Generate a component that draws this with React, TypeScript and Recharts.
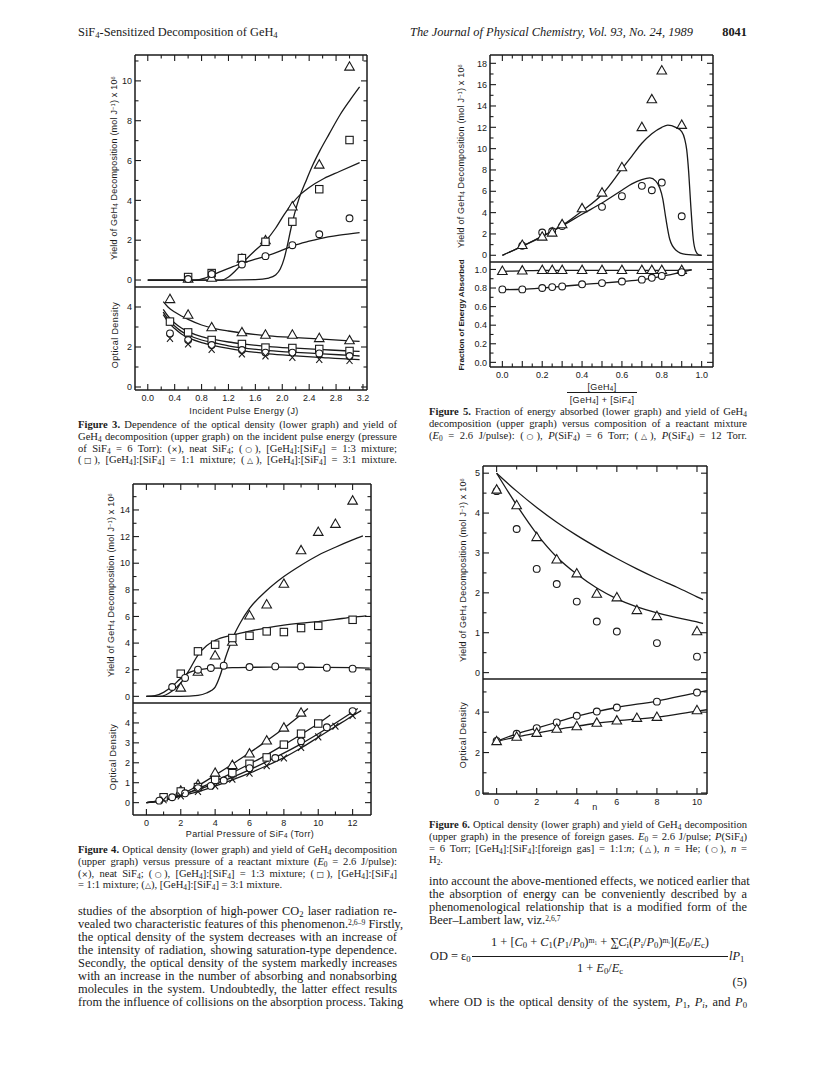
import React from 'react';
import { ComposedChart, Line, Scatter, XAxis, YAxis } from 'recharts';

const INK = '#1a1a1a';
const SANS = '"Liberation Sans", Arial, Helvetica, sans-serif';
const SERIF = '"Liberation Serif", "Times New Roman", Times, serif';

// ---------------- Figure 3 ----------------
const f3YieldX = [0.6, 0.95, 1.4, 1.75, 2.15, 2.55, 3.0];
const f3YieldTri = [0.05, 0.1, 1.05, 1.98, 3.68, 5.78, 10.7];
const f3YieldSq = [0.15, 0.35, 1.1, 1.92, 2.93, 4.56, 7.03];
const f3YieldCirc = [0.05, 0.3, 0.78, 1.2, 1.75, 2.3, 3.1];
const f3FitTriX = [0, 1.2, 1.6, 1.8, 1.9, 1.97, 2.03, 2.08, 2.13, 2.18, 2.25, 2.35, 2.45, 2.56, 2.7, 2.86, 3.0, 3.15];
const f3FitTriY = [0, 0, 0.02, 0.1, 0.25, 0.55, 1.1, 1.8, 2.6, 3.3, 4.1, 4.95, 5.75, 6.5, 7.35, 8.3, 9.0, 9.7];
const f3FitSqX = [0, 1.1, 1.2, 1.3, 1.45, 1.6, 1.75, 1.9, 2.03, 2.15, 2.27, 2.4, 2.62, 2.85, 3.15];
const f3FitSqY = [0, 0, 0.15, 0.45, 1.0, 1.5, 1.95, 2.6, 3.3, 3.85, 4.3, 4.65, 5.1, 5.45, 5.9];
const f3FitCircX = [0, 0.7, 0.85, 0.96, 1.1, 1.25, 1.41, 1.6, 1.76, 2.0, 2.16, 2.4, 2.56, 2.85, 3.15];
const f3FitCircY = [0, 0, 0.1, 0.25, 0.45, 0.65, 0.85, 1.05, 1.2, 1.5, 1.72, 1.95, 2.08, 2.25, 2.38];
const f3OdX = [0.33, 0.6, 0.95, 1.4, 1.75, 2.15, 2.55, 3.0];
const f3OdTri = [4.38, 3.6, 2.97, 2.72, 2.6, 2.6, 2.43, 2.32];
const f3OdSq = [3.27, 2.73, 2.35, 2.15, 1.97, 1.95, 1.9, 1.8];
const f3OdCirc = [2.68, 2.35, 2.1, 1.85, 1.72, 1.72, 1.68, 1.55];
const f3OdCross = [2.43, 2.15, 1.88, 1.65, 1.55, 1.48, 1.38, 1.32];
const f3OdFitX = [0.23, 0.3, 0.4, 0.5, 0.6, 0.8, 1.0, 1.2, 1.4, 1.8, 2.2, 2.6, 3.0, 3.15];
const f3OdFitTri = [4.27, 4.0, 3.75, 3.55, 3.38, 3.1, 2.92, 2.8, 2.7, 2.56, 2.47, 2.39, 2.31, 2.28];
const f3OdFitSq = [3.88, 3.55, 3.2, 2.95, 2.77, 2.52, 2.37, 2.25, 2.16, 2.02, 1.94, 1.87, 1.8, 1.78];
const f3OdFitCirc = [3.75, 3.4, 3.05, 2.78, 2.6, 2.35, 2.2, 2.06, 1.96, 1.82, 1.73, 1.66, 1.58, 1.55];
const f3OdFitCross = [3.62, 3.27, 2.92, 2.65, 2.47, 2.22, 2.06, 1.93, 1.82, 1.66, 1.56, 1.47, 1.39, 1.37];
const f3XTicks = [0, 0.2, 0.4, 0.6, 0.8, 1.0, 1.2, 1.4, 1.6, 1.8, 2.0, 2.2, 2.4, 2.6, 2.8, 3.0, 3.2];
const f3XLabels = [0, 0.4, 0.8, 1.2, 1.6, 2.0, 2.4, 2.8, 3.2];
const f3UpYTicks = [0, 1, 2, 3, 4, 5, 6, 7, 8, 9, 10, 11];
const f3UpYLabels = [0, 2, 4, 6, 8, 10];
const f3LoYTicks = [0, 1, 2, 3, 4];
const f3LoYLabels = [0, 2, 4];

// ---------------- Figure 5 ----------------
const f5TriX = [0.1, 0.2, 0.25, 0.3, 0.4, 0.5, 0.6, 0.7, 0.75, 0.8, 0.9];
const f5YieldTri = [0.94, 1.72, 2.1, 2.88, 4.38, 5.85, 8.23, 11.99, 14.6, 17.3, 12.2];
const f5CircX = [0.1, 0.2, 0.25, 0.3, 0.5, 0.6, 0.7, 0.75, 0.8, 0.9];
const f5YieldCirc = [0.9, 2.13, 2.25, 2.75, 4.54, 5.54, 6.51, 6.1, 6.82, 3.66];
const f5FitTriX = [0, 0.1, 0.2, 0.3, 0.4, 0.5, 0.6, 0.65, 0.7, 0.75, 0.8, 0.83, 0.87, 0.9, 0.915, 0.925, 0.935, 0.945, 0.958, 0.97, 0.985, 1.0];
const f5FitTriY = [0, 0.85, 1.75, 2.8, 4.15, 5.7, 8.1, 9.3, 10.5, 11.4, 12.0, 12.2, 12.0, 11.6, 10.9, 9.9, 7.8, 4.8, 1.5, 0.4, 0.05, 0];
const f5FitCircX = [0, 0.1, 0.2, 0.3, 0.4, 0.5, 0.6, 0.65, 0.7, 0.74, 0.77, 0.79, 0.805, 0.82, 0.84, 0.87, 0.92, 1.0];
const f5FitCircY = [0, 0.85, 1.8, 2.75, 3.85, 4.9, 6.1, 6.7, 7.1, 7.25, 6.95, 6.3, 5.3, 3.5, 1.5, 0.5, 0.08, 0];
const f5FracX = [0, 0.1, 0.2, 0.25, 0.3, 0.4, 0.5, 0.6, 0.7, 0.75, 0.8, 0.9];
const f5FracTri = [0.98, 0.985, 0.99, 0.99, 0.99, 0.99, 0.99, 0.99, 0.99, 0.99, 0.99, 0.99];
const f5FracCirc = [0.785, 0.785, 0.8, 0.81, 0.817, 0.84, 0.853, 0.87, 0.89, 0.91, 0.93, 0.97];
const f5FracLineX = [0, 0.1, 0.2, 0.3, 0.4, 0.5, 0.6, 0.7, 0.8, 0.9, 0.95];
const f5FracLineTri = [0.98, 0.985, 0.99, 0.99, 0.99, 0.99, 0.99, 0.99, 0.99, 0.99, 0.995];
const f5FracLineCirc = [0.783, 0.787, 0.8, 0.817, 0.838, 0.853, 0.87, 0.89, 0.925, 0.97, 0.995];
const f5XTicks = [0, 0.05, 0.1, 0.15, 0.2, 0.25, 0.3, 0.35, 0.4, 0.45, 0.5, 0.55, 0.6, 0.65, 0.7, 0.75, 0.8, 0.85, 0.9, 0.95, 1.0];
const f5XMajor = [0, 0.1, 0.2, 0.3, 0.4, 0.5, 0.6, 0.7, 0.8, 0.9, 1.0];
const f5XLabels = [0, 0.2, 0.4, 0.6, 0.8, 1.0];
const f5UpYTicks = [0, 1, 2, 3, 4, 5, 6, 7, 8, 9, 10, 11, 12, 13, 14, 15, 16, 17, 18];
const f5UpYLabels = [0, 2, 4, 6, 8, 10, 12, 14, 16, 18];
const f5LoYTicks = [0, 0.1, 0.2, 0.3, 0.4, 0.5, 0.6, 0.7, 0.8, 0.9, 1.0];
const f5LoYLabels = [0, 0.2, 0.4, 0.6, 0.8, 1.0];

// ---------------- Figure 4 ----------------
const f4TriX = [2, 3, 4, 5, 6, 7, 8, 9, 10, 11, 12];
const f4YieldTri = [0.63, 1.83, 3.05, 4.08, 6.05, 6.88, 8.43, 10.95, 12.33, 12.93, 14.68];
const f4SqX = [2, 3, 4, 5, 6, 7, 8, 9, 10, 12];
const f4YieldSq = [1.7, 3.38, 3.88, 4.38, 4.55, 4.88, 4.83, 5.13, 5.3, 5.75];
const f4CircX = [1.5, 2.25, 3, 3.75, 4.5, 6, 7.5, 9, 10.5, 12];
const f4YieldCirc = [0.7, 1.38, 2.0, 2.13, 2.3, 2.2, 2.25, 2.25, 2.15, 2.08];
const f4FitTriX = [0, 2, 3, 3.5, 3.8, 4.0, 4.3, 4.6, 4.85, 5.1, 5.5, 6, 7, 8, 9, 10, 11, 12, 12.6];
const f4FitTriY = [0, 0, 0.08, 0.25, 0.45, 0.7, 1.6, 2.9, 3.8, 4.6, 5.6, 6.6, 7.95, 9.0, 9.85, 10.6, 11.2, 11.75, 12.05];
const f4FitSqX = [0, 0.8, 1.5, 2, 2.5, 3, 3.5, 4, 5, 6, 7, 8, 9, 10, 11, 12, 12.8];
const f4FitSqY = [0, 0, 0.4, 1.0, 2.0, 3.1, 3.8, 4.2, 4.6, 4.9, 5.15, 5.35, 5.5, 5.62, 5.78, 5.95, 6.05];
const f4FitCircX = [0, 0.5, 1, 1.5, 2, 2.5, 3, 3.5, 4, 5, 6, 8, 10, 12, 13];
const f4FitCircY = [0, 0.05, 0.3, 0.75, 1.35, 1.8, 2.0, 2.08, 2.12, 2.15, 2.18, 2.2, 2.18, 2.15, 2.12];
const f4OdTriX = [2, 3, 4, 5, 6, 7, 8, 9];
const f4OdTri = [0.58, 0.89, 1.48, 1.87, 2.45, 3.1, 3.75, 4.5];
const f4OdSqX = [1, 2, 3, 4, 5, 6, 7, 8, 9, 10];
const f4OdSq = [0.27, 0.56, 0.78, 1.14, 1.48, 1.95, 2.27, 2.91, 3.46, 3.97];
const f4OdCircX = [0.75, 1.5, 2.25, 3, 3.75, 4.5, 6, 7.5, 9, 10.5, 12];
const f4OdCirc = [0.1, 0.27, 0.47, 0.73, 0.84, 1.11, 1.73, 2.24, 3.08, 3.78, 4.59];
const f4OdCrossX = [1, 2, 3, 4, 5, 6, 7, 8, 9, 10, 11, 12];
const f4OdCross = [0.14, 0.34, 0.56, 0.84, 1.18, 1.48, 1.85, 2.24, 2.77, 3.3, 3.83, 4.37];
const f4OdFitTriX = [0, 1, 2, 3, 4, 5, 6, 7, 8, 9, 9.4];
const f4OdFitTri = [0, 0.15, 0.42, 0.85, 1.38, 1.93, 2.5, 3.1, 3.73, 4.42, 4.72];
const f4OdFitSqX = [0, 1, 2, 3, 4, 5, 6, 7, 8, 9, 10, 10.7];
const f4OdFitSq = [0, 0.12, 0.36, 0.7, 1.08, 1.5, 1.94, 2.4, 2.9, 3.42, 3.97, 4.4];
const f4OdFitCircX = [0, 0.75, 1.5, 2.25, 3, 3.75, 4.5, 6, 7.5, 9, 10.5, 12, 12.3];
const f4OdFitCirc = [0, 0.08, 0.24, 0.44, 0.66, 0.88, 1.1, 1.65, 2.27, 2.95, 3.72, 4.55, 4.72];
const f4OdFitCrossX = [0, 1, 2, 3, 4, 5, 6, 7, 8, 9, 10, 11, 12, 12.5];
const f4OdFitCross = [0, 0.12, 0.32, 0.55, 0.83, 1.14, 1.48, 1.85, 2.26, 2.74, 3.28, 3.82, 4.36, 4.62];
const f4XTicks = [0, 1, 2, 3, 4, 5, 6, 7, 8, 9, 10, 11, 12];
const f4XLabels = [0, 2, 4, 6, 8, 10, 12];
const f4UpYTicks = [0, 1, 2, 3, 4, 5, 6, 7, 8, 9, 10, 11, 12, 13, 14, 15];
const f4UpYLabels = [0, 2, 4, 6, 8, 10, 12, 14];
const f4LoYTicks = [0, 0.5, 1, 1.5, 2, 2.5, 3, 3.5, 4, 4.5];
const f4LoYLabels = [0, 1, 2, 3, 4];

// ---------------- Figure 6 ----------------
const f6TriN = [0, 1, 2, 3, 4, 5, 6, 7, 8, 10];
const f6YieldTri = [4.58, 4.19, 3.39, 2.83, 2.48, 1.97, 1.88, 1.56, 1.41, 1.03];
const f6CircN = [0, 1, 2, 3, 4, 5, 6, 8, 10];
const f6YieldCirc = [4.55, 3.6, 2.6, 2.22, 1.78, 1.28, 1.03, 0.74, 0.4];
const f6OdCirc = [2.58, 2.93, 3.21, 3.49, 3.82, 4.03, 4.23, 4.52, 4.97];
const f6OdTri = [2.55, 2.77, 2.96, 3.16, 3.29, 3.46, 3.57, 3.7, 3.75, 4.08];
const f6FitN = [0, 1, 2, 3, 4, 5, 6, 7, 8, 9, 10, 10.3];
const f6FitHigh = [5.0, 4.55, 4.14, 3.77, 3.44, 3.14, 2.86, 2.6, 2.36, 2.14, 1.9, 1.83];
const f6FitLow = [5.0, 4.2, 3.48, 2.9, 2.47, 2.12, 1.85, 1.65, 1.5, 1.38, 1.27, 1.23];
const f6OdLineN = [0, 1, 2, 3, 4, 5, 6, 8, 10, 10.5];
const f6OdLineCirc = [2.55, 2.93, 3.21, 3.5, 3.8, 4.03, 4.23, 4.55, 4.97, 5.07];
const f6OdLineTri = [2.55, 2.77, 2.96, 3.15, 3.3, 3.45, 3.57, 3.75, 4.05, 4.12];
const f6XTicks = [0, 1, 2, 3, 4, 5, 6, 7, 8, 9, 10];
const f6XLabels = [0, 2, 4, 6, 8, 10];
const f6UpYTicks = [0, 0.5, 1, 1.5, 2, 2.5, 3, 3.5, 4, 4.5, 5];
const f6UpYLabels = [0, 1, 2, 3, 4, 5];
const f6LoYTicks = [0, 1, 2, 3, 4, 5];
const f6LoYLabels = [0, 2, 4];

// ---------------- helpers ----------------
type Kind = 'tri' | 'circ' | 'sq' | 'cross';
type Curve = { xs: number[]; ys: number[] };
type Mark = { xs: number[]; ys: number[]; kind: Kind };

const zip = (xs: number[], ys: number[]) => xs.map((x, i) => ({ x, y: ys[i] }));
const fmtInt = (v: number) => String(v);
const fmt1 = (v: number) => v.toFixed(1);

const shapeOf = (kind: Kind) => (p: any) => {
  const { cx, cy } = p;
  if (cx == null || cy == null) return <g />;
  const sw = 1.1;
  if (kind === 'tri')
    return <polygon points={`${cx},${cy - 5.2} ${cx - 4.8},${cy + 3.2} ${cx + 4.8},${cy + 3.2}`} fill="#fff" stroke={INK} strokeWidth={sw} />;
  if (kind === 'circ') return <circle cx={cx} cy={cy} r={3.4} fill="#fff" stroke={INK} strokeWidth={sw} />;
  if (kind === 'sq') return <rect x={cx - 3.7} y={cy - 3.7} width={7.4} height={7.4} fill="#fff" stroke={INK} strokeWidth={sw} />;
  return (
    <g stroke={INK} strokeWidth={sw}>
      <line x1={cx - 3} y1={cy - 3.4} x2={cx + 3} y2={cy + 3.4} />
      <line x1={cx + 3} y1={cy - 3.4} x2={cx - 3} y2={cy + 3.4} />
    </g>
  );
};

const makeTick = (side: 'top' | 'bottom' | 'left' | 'right', major: number[], labels: number[] | null, fmt: (v: number) => string) => (p: any) => {
  const { x, y, payload } = p;
  const v = payload.value;
  const len = major.includes(v) ? 6 : 3.5;
  const showLab = labels ? labels.includes(v) : false;
  const txt = (props: any) => (
    <text {...props} fill={INK} fontFamily={SANS} fontSize={9}>
      {fmt(v)}
    </text>
  );
  if (side === 'top') return <g><line x1={x} y1={y} x2={x} y2={y + len} stroke={INK} strokeWidth={1.1} /></g>;
  if (side === 'bottom')
    return (
      <g>
        <line x1={x} y1={y} x2={x} y2={y - len} stroke={INK} strokeWidth={1.1} />
        {showLab && txt({ x, y: y + 11, textAnchor: 'middle' })}
      </g>
    );
  if (side === 'left')
    return (
      <g>
        <line x1={x} y1={y} x2={x + len} y2={y} stroke={INK} strokeWidth={1.1} />
        {showLab && txt({ x: x - 3, y: y + 3.2, textAnchor: 'end' })}
      </g>
    );
  return <g><line x1={x} y1={y} x2={x - len} y2={y} stroke={INK} strokeWidth={1.1} /></g>;
};

const frame = { stroke: INK, strokeWidth: 1.5 };

type PanelProps = {
  l: number; t: number; w: number; h: number;
  xDomain: [number, number]; yDomain: [number, number];
  xTicks: number[]; xMajor: number[]; xLabels: number[]; xFmt: (v: number) => string;
  yTicks: number[]; yMajor: number[]; yFmt: (v: number) => string;
  upper: boolean;
  curves: Curve[]; marks: Mark[];
};

function Panel(pp: PanelProps) {
  const { l, t, w, h, xDomain, yDomain, xTicks, xMajor, xLabels, xFmt, yTicks, yMajor, yFmt, upper, curves, marks } = pp;
  const ML = 40, MR = 20, MT = 20, MB = 30;
  const W = w + ML + MR, H = h + MT + MB;
  return (
    <div style={{ position: 'absolute', left: l - ML, top: t - MT, width: W, height: H }}>
      <ComposedChart width={W} height={H} margin={{ top: 0, right: 0, bottom: 0, left: 0 }}>
        <XAxis xAxisId="t" orientation="top" type="number" dataKey="x" domain={xDomain} allowDataOverflow height={MT}
          ticks={xTicks} interval={0} tickSize={0} tickMargin={0} tickLine={false}
          axisLine={upper ? frame : false} tick={upper ? makeTick('top', xMajor, null, xFmt) : false} />
        <XAxis xAxisId="b" orientation="bottom" type="number" dataKey="x" domain={xDomain} allowDataOverflow height={MB}
          ticks={xTicks} interval={0} tickSize={0} tickMargin={0} tickLine={false}
          axisLine={frame} tick={upper ? false : makeTick('bottom', xMajor, xLabels, xFmt)} />
        <YAxis yAxisId="l" orientation="left" type="number" dataKey="y" domain={yDomain} allowDataOverflow width={ML}
          ticks={yTicks} interval={0} tickSize={0} tickMargin={0} tickLine={false}
          axisLine={frame} tick={makeTick('left', yMajor, yMajor, yFmt)} />
        <YAxis yAxisId="r" orientation="right" type="number" dataKey="y" domain={yDomain} allowDataOverflow width={MR}
          ticks={yTicks} interval={0} tickSize={0} tickMargin={0} tickLine={false}
          axisLine={frame} tick={makeTick('right', yMajor, null, yFmt)} />
        {curves.map((c, i) => (
          <Line key={'c' + i} xAxisId="b" yAxisId="l" data={zip(c.xs, c.ys)} dataKey="y" type="monotone"
            dot={false} activeDot={false} stroke={INK} strokeWidth={1.3} isAnimationActive={false} />
        ))}
        {marks.map((m, i) => (
          <Scatter key={'m' + i} xAxisId="b" yAxisId="l" data={zip(m.xs, m.ys)} dataKey="y"
            shape={shapeOf(m.kind)} isAnimationActive={false} />
        ))}
      </ComposedChart>
    </div>
  );
}

// ---------------- text helpers ----------------
const subSt: React.CSSProperties = { fontSize: '0.7em', verticalAlign: '-0.22em', lineHeight: 0 };
const supSt: React.CSSProperties = { fontSize: '0.62em', verticalAlign: '0.35em', lineHeight: 0 };
const s = (t: string) => <sub style={subSt}>{t}</sub>;
const u = (t: string) => <sup style={supSt}>{t}</sup>;
const sym = (c: string) => <span style={{ fontFamily: '"DejaVu Sans", sans-serif', fontSize: '0.74em' }}>{c}</span>;

function TL({ x, y, w, size, align = 'justify', children, style }: any) {
  return (
    <div style={{
      position: 'absolute', left: x, top: y - size * 0.52, width: w, fontSize: size, lineHeight: `${size * 0.96}px`,
      textAlign: align, textAlignLast: align, whiteSpace: 'nowrap', fontFamily: SERIF, color: INK, ...style,
    }}>{children}</div>
  );
}

function Para({ x, y, w, size, gap, lines, lastJustify = false }: any) {
  return (
    <>
      {lines.map((ln: any, i: number) => (
        <TL key={i} x={x} y={y + i * gap} w={w} size={size} align={i === lines.length - 1 && !lastJustify ? 'left' : 'justify'}>
          {ln}
        </TL>
      ))}
    </>
  );
}

function VTitle({ cx, cy, children, size = 9, bold = false, ls = 0.2 }: any) {
  return (
    <div style={{
      position: 'absolute', left: cx, top: cy, transform: 'translate(-50%, -50%) rotate(-90deg)', whiteSpace: 'nowrap',
      fontFamily: SANS, fontSize: size, letterSpacing: ls, fontWeight: bold ? 700 : 400, lineHeight: 1, color: INK,
    }}>{children}</div>
  );
}

function HTitle({ cx, cy, children, size = 9, ls = 0.35 }: any) {
  return (
    <div style={{
      position: 'absolute', left: cx, top: cy, transform: 'translate(-50%, -50%)', whiteSpace: 'nowrap',
      fontFamily: SANS, fontSize: size, letterSpacing: ls, lineHeight: 1, color: INK,
    }}>{children}</div>
  );
}

const yieldTitle = <>Yield of GeH{s('4')} Decomposition (mol J{u('−1')}) x 10{u('6')}</>;
const G4 = <>GeH{s('4')}</>;
const S4 = <>SiF{s('4')}</>;
const ratio = <>[{G4}]:[{S4}]</>;

export default function App() {
  const CAP = 10.6;
  const BODY = 12.4;
  return (
    <div style={{ position: 'absolute', left: 0, top: 0, width: 820, height: 1068, background: '#fff', overflow: 'hidden', fontFamily: SERIF, color: INK }}>
      {/* running head */}
      <TL x={78} y={33} w={300} size={12.4} align="left">SiF{s('4')}-Sensitized Decomposition of GeH{s('4')}</TL>
      <TL x={410} y={33} w={296} size={12.4} align="left"><i>The Journal of Physical Chemistry, Vol. 93, No. 24, 1989</i></TL>
      <TL x={707} y={33} w={40} size={12.4} align="right"><b>8041</b></TL>

      {/* ---------- Figure 3 ---------- */}
      <Panel l={135} t={55} w={232} h={232} xDomain={[-0.19, 3.26]} yDomain={[-0.35, 11.3]}
        xTicks={f3XTicks} xMajor={f3XLabels} xLabels={f3XLabels} xFmt={fmt1}
        yTicks={f3UpYTicks} yMajor={f3UpYLabels} yFmt={fmtInt} upper
        curves={[{ xs: f3FitTriX, ys: f3FitTriY }, { xs: f3FitSqX, ys: f3FitSqY }, { xs: f3FitCircX, ys: f3FitCircY }]}
        marks={[{ xs: f3YieldX, ys: f3YieldTri, kind: 'tri' }, { xs: f3YieldX, ys: f3YieldSq, kind: 'sq' }, { xs: f3YieldX, ys: f3YieldCirc, kind: 'circ' }]} />
      <Panel l={135} t={287} w={232} h={103} xDomain={[-0.19, 3.26]} yDomain={[-0.15, 5]}
        xTicks={f3XTicks} xMajor={f3XLabels} xLabels={f3XLabels} xFmt={fmt1}
        yTicks={f3LoYTicks} yMajor={f3LoYLabels} yFmt={fmtInt} upper={false}
        curves={[{ xs: f3OdFitX, ys: f3OdFitTri }, { xs: f3OdFitX, ys: f3OdFitSq }, { xs: f3OdFitX, ys: f3OdFitCirc }, { xs: f3OdFitX, ys: f3OdFitCross }]}
        marks={[{ xs: f3OdX, ys: f3OdTri, kind: 'tri' }, { xs: f3OdX, ys: f3OdSq, kind: 'sq' }, { xs: f3OdX, ys: f3OdCirc, kind: 'circ' }, { xs: f3OdX, ys: f3OdCross, kind: 'cross' }]} />
      <VTitle cx={114} cy={168}>{yieldTitle}</VTitle>
      <VTitle cx={115} cy={335} ls={0.4}>Optical Density</VTitle>
      <HTitle cx={244} cy={411}>Incident Pulse Energy (J)</HTitle>
      <Para x={78} y={426} w={319} size={CAP} gap={11.6} lastJustify lines={[
        <><b>Figure 3.</b> Dependence of the optical density (lower graph) and yield of</>,
        <>{G4} decomposition (upper graph) on the incident pulse energy (pressure</>,
        <>of {S4} = 6 Torr): ({sym('×')}), neat {S4}; ({sym('○')}), {ratio} = 1:3 mixture;</>,
        <>({sym('□')}), {ratio} = 1:1 mixture; ({sym('△')}), {ratio} = 3:1 mixture.</>,
      ]} />

      {/* ---------- Figure 5 ---------- */}
      <Panel l={490} t={55} w={223} h={207} xDomain={[-0.062, 1.057]} yDomain={[-0.63, 18.78]}
        xTicks={f5XTicks} xMajor={f5XMajor} xLabels={f5XLabels} xFmt={fmt1}
        yTicks={f5UpYTicks} yMajor={f5UpYLabels} yFmt={fmtInt} upper
        curves={[{ xs: f5FitTriX, ys: f5FitTriY }, { xs: f5FitCircX, ys: f5FitCircY }]}
        marks={[{ xs: f5CircX, ys: f5YieldCirc, kind: 'circ' }, { xs: f5TriX, ys: f5YieldTri, kind: 'tri' }]} />
      <Panel l={490} t={262} w={223} h={105} xDomain={[-0.062, 1.057]} yDomain={[-0.05, 1.08]}
        xTicks={f5XTicks} xMajor={f5XMajor} xLabels={f5XLabels} xFmt={fmt1}
        yTicks={f5LoYTicks} yMajor={f5LoYLabels} yFmt={fmt1} upper={false}
        curves={[{ xs: f5FracLineX, ys: f5FracLineTri }, { xs: f5FracLineX, ys: f5FracLineCirc }]}
        marks={[{ xs: f5FracX, ys: f5FracTri, kind: 'tri' }, { xs: f5FracX, ys: f5FracCirc, kind: 'circ' }]} />
      <VTitle cx={461} cy={156}>{yieldTitle}</VTitle>
      <VTitle cx={462} cy={315} size={8.1} bold ls={0}>Fraction of Energy Absorbed</VTitle>
      <HTitle cx={602} cy={387}>[{G4}]</HTitle>
      <div style={{ position: 'absolute', left: 567, top: 392, width: 70, borderTop: `1px solid ${INK}` }} />
      <HTitle cx={602} cy={400}>[{G4}] + [{S4}]</HTitle>
      <Para x={429} y={413} w={318} size={CAP} gap={11.6} lastJustify lines={[
        <><b>Figure 5.</b> Fraction of energy absorbed (lower graph) and yield of {G4}</>,
        <>decomposition (upper graph) versus composition of a reactant mixture</>,
        <>(<i>E</i>{s('0')} = 2.6 J/pulse): ({sym('○')}), <i>P</i>({S4}) = 6 Torr; ({sym('△')}), <i>P</i>({S4}) = 12 Torr.</>,
      ]} />

      {/* ---------- Figure 4 ---------- */}
      <Panel l={133} t={484} w={238} h={219} xDomain={[-0.78, 13.07]} yDomain={[-0.5, 15.95]}
        xTicks={f4XTicks} xMajor={f4XLabels} xLabels={f4XLabels} xFmt={fmtInt}
        yTicks={f4UpYTicks} yMajor={f4UpYLabels} yFmt={fmtInt} upper
        curves={[{ xs: f4FitTriX, ys: f4FitTriY }, { xs: f4FitSqX, ys: f4FitSqY }, { xs: f4FitCircX, ys: f4FitCircY }]}
        marks={[{ xs: f4TriX, ys: f4YieldTri, kind: 'tri' }, { xs: f4SqX, ys: f4YieldSq, kind: 'sq' }, { xs: f4CircX, ys: f4YieldCirc, kind: 'circ' }]} />
      <Panel l={133} t={703} w={238} h={112} xDomain={[-0.78, 13.07]} yDomain={[-0.62, 5.0]}
        xTicks={f4XTicks} xMajor={f4XLabels} xLabels={f4XLabels} xFmt={fmtInt}
        yTicks={f4LoYTicks} yMajor={f4LoYLabels} yFmt={fmtInt} upper={false}
        curves={[{ xs: f4OdFitTriX, ys: f4OdFitTri }, { xs: f4OdFitSqX, ys: f4OdFitSq }, { xs: f4OdFitCircX, ys: f4OdFitCirc }, { xs: f4OdFitCrossX, ys: f4OdFitCross }]}
        marks={[{ xs: f4OdTriX, ys: f4OdTri, kind: 'tri' }, { xs: f4OdSqX, ys: f4OdSq, kind: 'sq' }, { xs: f4OdCircX, ys: f4OdCirc, kind: 'circ' }, { xs: f4OdCrossX, ys: f4OdCross, kind: 'cross' }]} />
      <VTitle cx={111} cy={585}>{yieldTitle}</VTitle>
      <VTitle cx={113} cy={757} ls={0.4}>Optical Density</VTitle>
      <HTitle cx={250} cy={834}>Partial Pressure of {S4} (Torr)</HTitle>
      <Para x={78} y={851} w={319} size={CAP} gap={11.6} lines={[
        <><b>Figure 4.</b> Optical density (lower graph) and yield of {G4} decomposition</>,
        <>(upper graph) versus pressure of a reactant mixture (<i>E</i>{s('0')} = 2.6 J/pulse):</>,
        <>({sym('×')}), neat {S4}; ({sym('○')}), {ratio} = 1:3 mixture; ({sym('□')}), {ratio}</>,
        <>= 1:1 mixture; ({sym('△')}), {ratio} = 3:1 mixture.</>,
      ]} />
      <Para x={78} y={912} w={319} size={BODY} gap={13} lastJustify lines={[
        <>studies of the absorption of high-power CO{s('2')} laser radiation re-</>,
        <>vealed two characteristic features of this phenomenon.{u('2,6–9')} Firstly,</>,
        <>the optical density of the system decreases with an increase of</>,
        <>the intensity of radiation, showing saturation-type dependence.</>,
        <>Secondly, the optical density of the system markedly increases</>,
        <>with an increase in the number of absorbing and nonabsorbing</>,
        <>molecules in the system.  Undoubtedly, the latter effect results</>,
        <>from the influence of collisions on the absorption process.  Taking</>,
      ]} />

      {/* ---------- Figure 6 ---------- */}
      <Panel l={483} t={466} w={224} h={213} xDomain={[-0.68, 10.5]} yDomain={[-0.16, 5.18]}
        xTicks={f6XTicks} xMajor={f6XLabels} xLabels={f6XLabels} xFmt={fmtInt}
        yTicks={f6UpYTicks} yMajor={f6UpYLabels} yFmt={fmtInt} upper
        curves={[{ xs: f6FitN, ys: f6FitHigh }, { xs: f6FitN, ys: f6FitLow }]}
        marks={[{ xs: f6CircN, ys: f6YieldCirc, kind: 'circ' }, { xs: f6TriN, ys: f6YieldTri, kind: 'tri' }]} />
      <Panel l={483} t={679} w={224} h={115} xDomain={[-0.68, 10.5]} yDomain={[-0.05, 5.64]}
        xTicks={f6XTicks} xMajor={f6XLabels} xLabels={f6XLabels} xFmt={fmtInt}
        yTicks={f6LoYTicks} yMajor={f6LoYLabels} yFmt={fmtInt} upper={false}
        curves={[{ xs: f6OdLineN, ys: f6OdLineCirc }, { xs: f6OdLineN, ys: f6OdLineTri }]}
        marks={[{ xs: f6CircN, ys: f6OdCirc, kind: 'circ' }, { xs: f6TriN, ys: f6OdTri, kind: 'tri' }]} />
      <VTitle cx={463} cy={570}>{yieldTitle}</VTitle>
      <VTitle cx={463} cy={735} ls={0.4}>Optical Density</VTitle>
      <HTitle cx={595} cy={807}>n</HTitle>
      <Para x={429} y={826} w={318} size={CAP} gap={11.6} lines={[
        <><b>Figure 6.</b> Optical density (lower graph) and yield of {G4} decomposition</>,
        <>(upper graph) in the presence of foreign gases. <i>E</i>{s('0')} = 2.6 J/pulse; <i>P</i>({S4})</>,
        <>= 6 Torr; [{G4}]:[{S4}]:[foreign gas] = 1:1:<i>n</i>; ({sym('△')}), <i>n</i> = He; ({sym('○')}), <i>n</i> =</>,
        <>H{s('2')}.</>,
      ]} />
      <Para x={429} y={882} w={318} size={BODY} gap={13} lines={[
        <>into account the above-mentioned effects, we noticed earlier that</>,
        <>the absorption of energy can be conveniently described by a</>,
        <>phenomenological relationship that is a modified form of the</>,
        <>Beer–Lambert law, viz.{u('2,6,7')}</>,
      ]} />

      {/* equation (5) */}
      <TL x={472} y={943} w={256} size={BODY} align="center">
        1 + [<i>C</i>{s('0')} + <i>C</i>{s('1')}(<i>P</i>{s('1')}/<i>P</i>{s('0')}){u('m₁')} + ∑<sub style={{ ...subSt, fontStyle: 'italic', fontSize: '0.6em', verticalAlign: '-0.45em', marginLeft: -5, marginRight: 2 }}>i</sub><i>C</i>{s('i')}(<i>P</i>{s('i')}/<i>P</i>{s('0')}){u('mᵢ')}](<i>E</i>{s('0')}/<i>E</i>{s('c')})
      </TL>
      <TL x={430} y={957} w={42} size={BODY} align="left">OD = ε{s('0')}</TL>
      <div style={{ position: 'absolute', left: 472, top: 956, width: 256, borderTop: `1px solid ${INK}` }} />
      <TL x={472} y={969} w={256} size={BODY} align="center">1 + <i>E</i>{s('0')}/<i>E</i>{s('c')}</TL>
      <TL x={729} y={957} w={20} size={BODY} align="left"><i>lP</i>{s('1')}</TL>
      <TL x={710} y={983} w={37} size={BODY} align="right">(5)</TL>
      <TL x={429} y={1003} w={318} size={BODY} align="justify">
        where OD is the optical density of the system, <i>P</i>{s('1')}, <i>P<sub style={subSt}>i</sub></i>, and <i>P</i>{s('0')}
      </TL>
    </div>
  );
}
